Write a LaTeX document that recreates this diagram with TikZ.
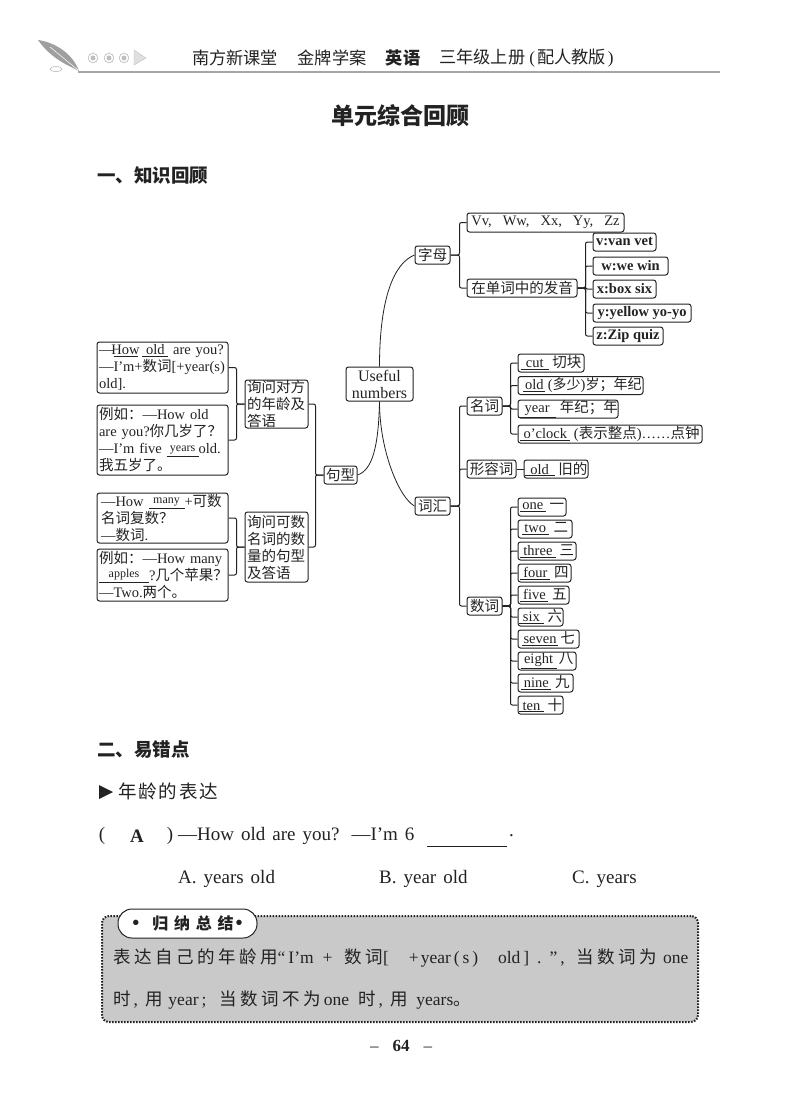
\documentclass[tikz,border=0pt]{standalone}
\usepackage{fontspec}
\setmainfont{Liberation Serif}
\newfontfamily\cjk{Noto Sans CJK SC}
\newfontfamily\cjkw[LetterSpace=20]{Noto Sans CJK SC}
\newfontfamily\cjkm[LetterSpace=10]{Noto Sans CJK SC}
\newfontfamily\cjkp[LetterSpace=36]{Noto Sans CJK SC}
\usetikzlibrary{positioning}
\newcommand{\zh}[1]{{\cjk #1}}
\newcommand{\zw}[1]{{\cjkw #1}}
\newcommand{\zm}[1]{{\cjkm #1}}
\newcommand{\ul}[2]{\underline{\makebox[#1pt][c]{#2}}}
\newcommand{\fs}[1]{\fontsize{#1}{#1}\selectfont}
\newcommand{\fl}{\fs{19}\spaceskip=7pt\relax}
\definecolor{ink}{HTML}{222222}
\definecolor{boxgray}{HTML}{C9C9C9}
\begin{document}
\begin{tikzpicture}[x=1pt,y=-1pt,every node/.style={text=ink,inner sep=0pt},
rx/.style={draw=ink,line width=1pt,rounded corners=2.5pt,minimum height=18,font=\fontsize{14.5}{17}\selectfont},
rb/.style={rx,font=\fontsize{14.5}{17}\selectfont\bfseries},
tx/.style={align=left,text width=#1},
ln/.style={draw=ink,line width=1pt,rounded corners=2pt}]
\useasboundingbox (0,0) rectangle (800,1114);
% header
\fill[gray!75] (38,40) .. controls (53,42) and (72,52) .. (79,71) .. controls (70,66) and (52,60) .. (38,40);
\draw[white,line width=.5pt] (50,47) -- (78,70);
\draw[gray!60,line width=.5pt] (56,69) ellipse (6 and 2.5);
\draw[gray!70,line width=1.2pt] (78,72) -- (720,72);
\foreach \cx in {93,109,124} {
\draw[gray!45,line width=.8pt] (\cx,58) circle (4.8);
\fill[gray!50] (\cx,58) circle (2.5);
}
\draw[gray!50,fill=gray!25] (134,50) -- (146,58) -- (134,65) -- cycle;
\node (hd1) at (235,58) {\fs{17.2}\zh{南方新课堂}};
\node (hd2) at (332,58) {\fs{17.2}\zh{金牌学案}};
\node (hd3) at (403,58) {\fs{17.2}\cjk\bfseries 英语};
\node (hd4) at (526.5,58) {\fs{17.2}\zh{三年级上册}\hspace{4pt}(\hspace{2pt}\zh{配人教版}\hspace{2pt})};
\node (title) at (400.5,116) {\fs{23}\cjk\bfseries 单元综合回顾};
\node[anchor=west] (sec1) at (97,176) {\fs{18.5}\cjk\bfseries 一、知识回顾};
% left side
\node[rx,tx=127,inner xsep=2,minimum height=51] (a1) at (162.5,367.5) {—\ul{24}{How} \ul{26}{old} are you?\\—I’m+\zh{数词}[+year(s)\\old].};
\node[rx,tx=127,inner xsep=2,minimum height=70] (a2) at (162.5,440) {\zh{例如：}—How old\\are you?\zh{你几岁了？}\\—I’m five \ul{32}{\raisebox{2pt}{\fs{12}years}}old.\\\zh{我五岁了。}};
\node[rx,tx=123,inner xsep=4,minimum height=50] (a3) at (162.5,518) {—How \ul{36}{\raisebox{3pt}{\fs{12}many}}+\zh{可数}\\\zh{名词复数？}\\—\zh{数词}.};
\node[rx,tx=127,inner xsep=2,minimum height=52] (a4) at (162.5,575) {\zh{例如：}—How many\\\ul{50}{\raisebox{3pt}{\fs{12}apples}}?\zh{几个苹果？}\\—Two.\zh{两个。}};
\node[rx,tx=59,inner xsep=2,minimum height=48] (q1) at (276.5,404) {\zh{询问对方}\\\zh{的年龄及}\\\zh{答语}};
\node[rx,tx=59,inner xsep=2,minimum height=70] (q2) at (276.5,547) {\zh{询问可数}\\\zh{名词的数}\\\zh{量的句型}\\\zh{及答语}};
\node[rx,minimum width=33] (jx) at (340.5,475) {\zh{句型}};
\node[rx,align=center,minimum width=67,minimum height=34,font=\fontsize{16}{17}\selectfont] (un) at (379.5,384) {Useful\\numbers};
% letters
\node[rx,minimum width=35] (zm) at (432.5,255) {\zh{字母}};
\node[rx,minimum width=157,minimum height=19] (vv) at (545.5,222.5) {Vv,\hspace{11pt}Ww,\hspace{11pt}Xx,\hspace{11pt}Yy,\hspace{11pt}Zz};
\node[rx,minimum width=110] (zd) at (522,288) {\zh{在单词中的发音}};
\node[rb,minimum width=63] (lv) at (624.5,242) {v:van vet};
\node[rb,minimum width=75] (lw) at (630.5,266) {w:we win\hspace{20pt}};
\node[rb,minimum width=63] (lx) at (624.5,289) {x:box six};
\node[rb,minimum width=98] (ly) at (642,313) {y:yellow yo-yo};
\node[rb,minimum width=70] (lz) at (628,336) {z:Zip quiz};
% words
\node[rx,minimum width=35] (ch) at (432.5,506) {\zh{词汇}};
\node[rx,minimum width=35] (mc) at (484.5,406) {\zh{名词}};
\node[rx,minimum width=66] (n1) at (551,363) {\ul{28}{cut} \zh{切块}};
\node[rx,minimum width=125] (n2) at (580.5,385.5) {\hspace{4pt}\ul{22}{old}\,({\fs{14}\zh{多少}}){\fs{14}\zh{岁；年纪}}};
\node[rx,minimum width=100] (n3) at (568,409) {\ul{38}{year} \zh{年纪；年}};
\node[rx,minimum width=184] (n4) at (610,434) {\ul{50}{o’clock} (\zh{表示整点})……\zh{点钟}};
\node[rx,minimum width=49] (xr) at (491.5,469) {\zh{形容词}};
\node[rx,minimum width=64] (a0) at (556,469) {\ul{30}{old} \zh{旧的}};
\node[rx,minimum width=35] (sc) at (484.5,606) {\zh{数词}};
\node[rx,minimum width=48] (m1) at (542,507) {\ul{26}{one} \zh{一}};
\node[rx,minimum width=54] (m2) at (545,529) {\ul{27}{two}\,\,\zh{二}};
\node[rx,minimum width=58] (m3) at (547,551) {\ul{36}{three} \zh{三}};
\node[rx,minimum width=53] (m4) at (544.5,573) {\ul{30}{four} \zh{四}};
\node[rx,minimum width=51] (m5) at (543.5,595) {\ul{28}{five} \zh{五}};
\node[rx,minimum width=45] (m6) at (540.5,617) {\ul{25}{six} \zh{六}};
\node[rx,minimum width=61] (m7) at (548.5,639) {\ul{36}{seven}\,\zh{七}};
\node[rx,minimum width=58] (m8) at (547,661) {\ul{36}{eight}\,\zh{八}};
\node[rx,minimum width=55] (m9) at (545.5,683) {\ul{30}{nine} \zh{九}};
\node[rx,minimum width=45] (m10) at (540.5,705) {\ul{25}{ten} \zh{十}};
% links
\draw[ln] (q1.west) -- ++(-8,0) |- (a1.east);
\draw[ln] (q1.west) -- ++(-8,0) |- (a2.east);
\draw[ln] (q2.west) -- ++(-8,0) |- (a3.east);
\draw[ln] (q2.west) -- ++(-8,0) |- (a4.east);
\draw[ln] (jx.west) -- ++(-8,0) |- (q1.east);
\draw[ln] (jx.west) -- ++(-8,0) |- (q2.east);
\draw[ink,line width=.8pt] (un.north) .. controls +(0,-70) and +(-20,8) .. (zm.west);
\draw[ink,line width=.8pt] (un.south) .. controls +(-1,45) and +(15,-5) .. (jx.east);
\draw[ink,line width=.8pt] (un.south) .. controls +(0,50) and +(-15,-8) .. (ch.west);
\draw[ln] (zm.east) -- ++(9,0) |- (vv.west);
\draw[ln] (zm.east) -- ++(9,0) |- (zd.west);
\draw[ln] (zd.east) -- ++(8,0) |- (lv.west);
\draw[ln] (zd.east) -- ++(8,0) |- (lw.west);
\draw[ln] (zd.east) -- ++(8,0) |- (lx.west);
\draw[ln] (zd.east) -- ++(8,0) |- (ly.west);
\draw[ln] (zd.east) -- ++(8,0) |- (lz.west);
\draw[ln] (ch.east) -- ++(9,0) |- (mc.west);
\draw[ln] (ch.east) -- ++(9,0) |- (xr.west);
\draw[ln] (ch.east) -- ++(9,0) |- (sc.west);
\draw[ln] (mc.east) -- ++(8,0) |- (n1.west);
\draw[ln] (mc.east) -- ++(8,0) |- (n2.west);
\draw[ln] (mc.east) -- ++(8,0) |- (n3.west);
\draw[ln] (mc.east) -- ++(8,0) |- (n4.west);
\draw[ln] (xr.east) -- (a0.west);
\draw[ln] (sc.east) -- ++(8,0) |- (m1.west);
\draw[ln] (sc.east) -- ++(8,0) |- (m2.west);
\draw[ln] (sc.east) -- ++(8,0) |- (m3.west);
\draw[ln] (sc.east) -- ++(8,0) |- (m4.west);
\draw[ln] (sc.east) -- ++(8,0) |- (m5.west);
\draw[ln] (sc.east) -- ++(8,0) |- (m6.west);
\draw[ln] (sc.east) -- ++(8,0) |- (m7.west);
\draw[ln] (sc.east) -- ++(8,0) |- (m8.west);
\draw[ln] (sc.east) -- ++(8,0) |- (m9.west);
\draw[ln] (sc.east) -- ++(8,0) |- (m10.west);
% lower part
\node[anchor=west] (sec2) at (97,750) {\fs{18.5}\cjk\bfseries 二、易错点};
\fill[ink] (99,785) -- (113,792) -- (99,799) -- cycle;
\node[anchor=west] (age) at (118,791) {\fs{18.5}\zm{年龄的表达}};
\node (pl) at (102,836) {\fs{19}(};
\node (ans) at (137,836) {\fs{19}\bfseries A};
\node (pr) at (170,836) {\fs{19})};
\node[anchor=west] (qu) at (178,836) {\fl —How old are you?\hspace{12pt}—I’m 6};
\coordinate (bl) at (427,846);
\coordinate (br) at (507,846);
\draw[ink,line width=.7pt] (bl) -- (br);
\node[anchor=west] (dot) at (509,836) {\fs{19}.};
\node[anchor=west] (oa) at (178,879) {\fl A. years old};
\node[anchor=west] (ob) at (379,879) {\fl B. year old};
\node[anchor=west] (oc) at (572,879) {\fl C. years};
\node[draw=ink,fill=boxgray,dash pattern=on 1.5pt off 1.5pt,line width=2pt,rounded corners=7pt,minimum width=596,minimum height=106] (sumbox) at (400,969) {};
\node[draw=ink,fill=white,line width=1pt,rounded corners=14pt,minimum width=139,minimum height=29] (pill) at (187.5,923.5) {\fs{20}\bfseries •\hspace{13pt}{\fs{16}\cjkp\bfseries 归纳总结}\hspace{2pt}•};
\node[anchor=west] (s1) at (113,958) {\fs{17.5}\zw{表达自己的年龄用}“\hspace{3pt}I’m\hspace{9pt}+\hspace{12pt}\zw{数词}[\hspace{20pt}+\hspace{2pt}year\,(\,s\,)\hspace{20pt}old\,]\hspace{8pt}.\hspace{8pt}”\,,\hspace{12pt}\zw{当数词为}\hspace{6pt}one};
\node[anchor=west] (s2) at (113,1000) {\fs{17.5}\zw{时}\,,\hspace{8pt}\zw{用}\hspace{5pt}year\,;\hspace{13pt}\zw{当数词不为}\hspace{3pt}one\hspace{9pt}\zw{时}\,,\hspace{8pt}\zw{用}\hspace{8pt}years\zh{。}};
\node (pg) at (401,1046) {\fs{17}–\hspace{14pt}\bfseries 64\hspace{14pt}\mdseries –};
\end{tikzpicture}
\end{document}
